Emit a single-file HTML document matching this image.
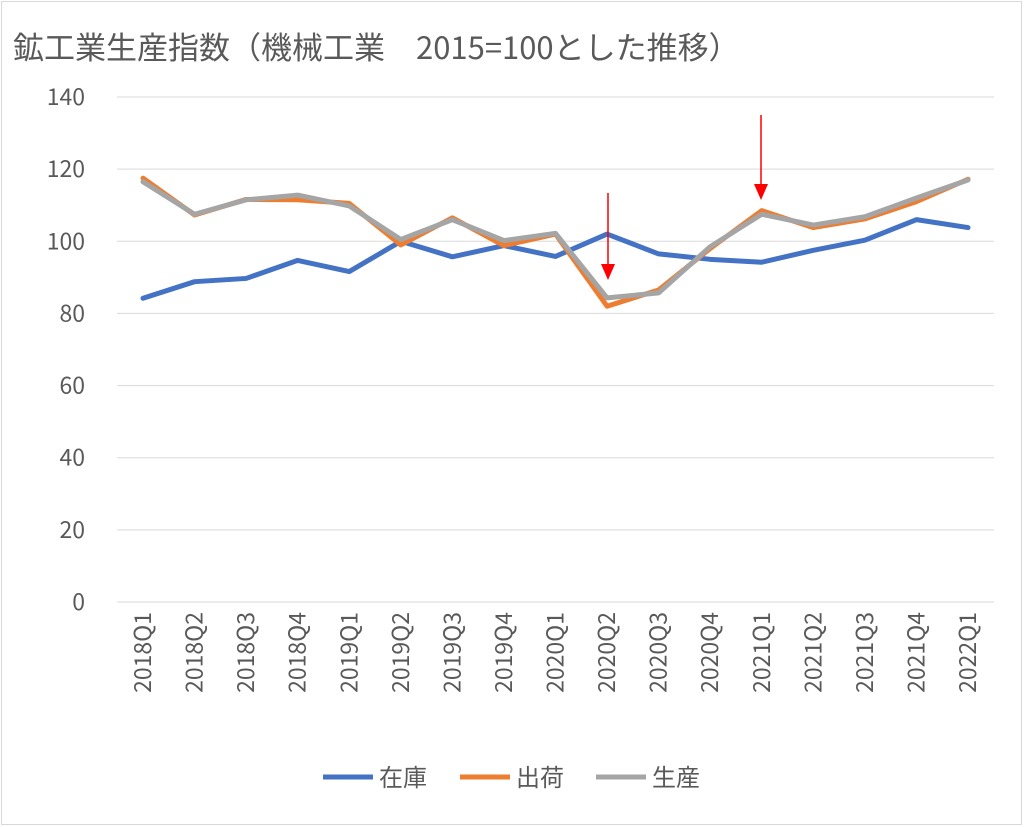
<!DOCTYPE html>
<html><head><meta charset="utf-8"><style>
body{margin:0;background:#fff;}
svg{display:block;font-family:"Noto Sans CJK JP",sans-serif;}
</style></head><body>
<svg id="c" width="1024" height="827">
<rect x="1.5" y="1.5" width="1020" height="823" fill="#fff" stroke="#d9d9d9"/>
<text x="13" y="59" font-size="31" fill="#595959">鉱工業生産指数（機械工業　2015=100とした推移）</text>
<g id="grid"></g><g id="xl"></g><g id="ser"></g>
<g><line x1="608" y1="193" x2="608" y2="266" stroke="#ff0000" stroke-width="1.5"/><polygon points="601,264 615,264 608,280" fill="#ff0000"/></g>
<g><line x1="761" y1="115" x2="761" y2="186" stroke="#ff0000" stroke-width="1.5"/><polygon points="754,184 768,184 761,200" fill="#ff0000"/></g>
<g id="leg"></g>
</svg>
<script>
const categories=["2018Q1","2018Q2","2018Q3","2018Q4","2019Q1","2019Q2","2019Q3","2019Q4","2020Q1","2020Q2","2020Q3","2020Q4","2021Q1","2021Q2","2021Q3","2021Q4","2022Q1"];
const inventory=[84.2,88.8,89.7,94.7,91.6,100,95.7,98.8,95.8,102,96.5,95,94.2,97.5,100.3,106,103.8];
const shipments=[117.5,107.3,111.6,111.5,110.5,99,106.5,98.8,102,82,86.5,98,108.5,103.8,106.2,111,117.2];
const production=[116.5,107.5,111.5,112.8,109.8,100.5,106,100.2,102.2,84.3,85.7,98.5,107.5,104.5,106.8,112,117];
const yTicks=[0,20,40,60,80,100,120,140];
const NS="http://www.w3.org/2000/svg";
function y(v){return 602-v*(505/140);}
function x(i){return 143+i*(825/16);}
function mk(t,a,p){const e=document.createElementNS(NS,t);for(const k in a)e.setAttribute(k,a[k]);p.appendChild(e);return e;}
const g=document.getElementById('grid');
yTicks.forEach(v=>{
 const l=mk('line',{x1:117,x2:994,y1:y(v),y2:y(v),stroke:'#d9d9d9','stroke-width':1},g);
 
 
 const t=mk('text',{x:85,y:y(v)+8,'font-size':23,fill:'#595959','text-anchor':'end'},g);
 t.textContent=v;
 
 
});
const xl=document.getElementById('xl');
categories.forEach((c,i)=>{
 const t=mk('text',{transform:`translate(${x(i)+8},612) rotate(-90)`,'font-size':23,fill:'#595959','text-anchor':'end'},xl);
 t.textContent=c;
 
 
});
const ser=document.getElementById('ser');
[[inventory,'#4472c4','inventory'],[shipments,'#ed7d31','shipments'],[production,'#a5a5a5','production']].forEach(([d,col,n])=>{
 const p=mk('polyline',{points:d.map((v,i)=>x(i)+','+y(v)).join(' '),fill:'none',stroke:col,'stroke-width':5,'stroke-linejoin':'round','stroke-linecap':'round'},ser);
 
 
});
const leg=document.getElementById('leg');
[['在庫','#4472c4',323],['出荷','#ed7d31',460],['生産','#a5a5a5',596]].forEach(([n,col,lx])=>{
 const gg=mk('g',{},leg);
 
 
 mk('line',{x1:lx,x2:lx+50,y1:777,y2:777,stroke:col,'stroke-width':5},gg);
 const t=mk('text',{x:lx+56,y:786,'font-size':24,fill:'#595959'},gg);t.textContent=n;
});
</script>
</body></html>
